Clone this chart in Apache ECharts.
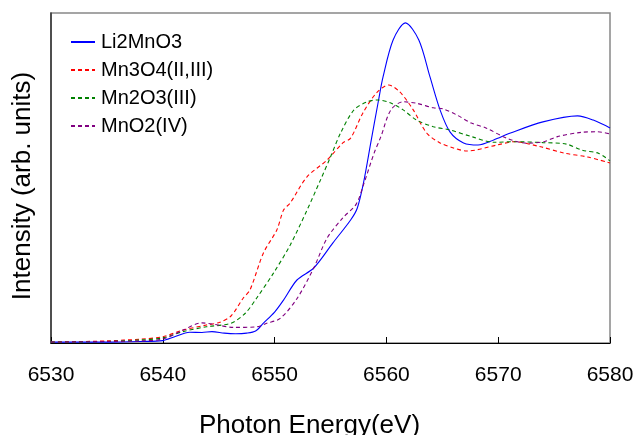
<!DOCTYPE html>
<html><head><meta charset="utf-8">
<script src="https://cdn.jsdelivr.net/npm/echarts@6/dist/echarts.min.js"></script>
<style>html,body{margin:0;padding:0;background:#fff}#c{width:637px;height:435px}</style>
</head><body><div id="c"></div>
<script>
const seriesNames = ['Li2MnO3','Mn3O4(II,III)','Mn2O3(III)','MnO2(IV)'];
const xTicks = [6530,6540,6550,6560,6570,6580];

const li2mno3E = [6530,6535,6538,6540,6541,6542.4,6543.5,6544.4,6545.5,6546.5,6547.5,6548.3,6549,6550,6550.8,6552,6553.5,6555.2,6556.8,6557.4,6558,6558.6,6559.3,6559.7,6560.6,6561.7,6562.9,6563.9,6564.8,6565.7,6566.9,6568.2,6569.6,6571.1,6574,6577.1,6578.5,6580];
const li2mno3I = [0.003,0.003,0.005,0.008,0.02,0.036,0.035,0.038,0.033,0.031,0.033,0.04,0.066,0.103,0.143,0.21,0.25,0.333,0.41,0.45,0.543,0.667,0.81,0.887,1.01,1.067,1.01,0.887,0.777,0.703,0.667,0.66,0.677,0.70,0.737,0.757,0.743,0.717];

const mn3o4E = [6530,6535,6538,6540,6541.8,6543.9,6545.1,6546.1,6547.2,6547.8,6549,6550.2,6550.8,6551.4,6552.9,6554.7,6556.1,6556.8,6557.9,6559.1,6560.2,6561.2,6562.4,6563.6,6564.8,6566,6567.2,6569.9,6571.4,6573.8,6575.9,6578,6580];
const mn3o4I = [0.003,0.007,0.013,0.021,0.043,0.06,0.069,0.09,0.15,0.177,0.30,0.377,0.443,0.467,0.554,0.61,0.667,0.683,0.767,0.833,0.86,0.837,0.777,0.70,0.667,0.65,0.64,0.66,0.671,0.654,0.633,0.62,0.60];

const mn2o3E = [6530,6535,6538,6540,6541.8,6543.9,6546.1,6547.4,6548.4,6549.9,6551.4,6552.9,6554.1,6555,6555.9,6557.1,6558.3,6559.2,6560.4,6561.5,6562.7,6564.2,6565.7,6567.7,6569.6,6571.4,6574,6576.1,6577.5,6579,6580];
const mn2o3I = [0.003,0.005,0.01,0.017,0.038,0.054,0.066,0.10,0.15,0.233,0.327,0.443,0.543,0.62,0.70,0.777,0.804,0.81,0.80,0.777,0.743,0.721,0.71,0.687,0.669,0.671,0.668,0.663,0.643,0.632,0.607];

const mno2E = [6530,6535,6538,6540,6541.8,6543.5,6544.5,6546.3,6548.4,6549.3,6550.5,6552,6553.5,6554.7,6556.1,6557.3,6558,6558.9,6559.5,6560.4,6561.5,6562.7,6564.2,6565.1,6566.3,6567.6,6568.9,6570.8,6572.6,6574.1,6575.3,6577.4,6578.9,6580];
const mno2I = [0.003,0.005,0.007,0.013,0.043,0.067,0.063,0.052,0.054,0.066,0.082,0.148,0.25,0.35,0.417,0.463,0.533,0.633,0.687,0.777,0.804,0.799,0.784,0.78,0.76,0.733,0.717,0.682,0.666,0.671,0.688,0.702,0.704,0.697];

const zip = (a,b) => a.map((v,i)=>[v,b[i]]);
const colors = ['#0000ff','#ff0000','#008000','#800080'];
const dataSets = [zip(li2mno3E,li2mno3I), zip(mn3o4E,mn3o4I), zip(mn2o3E,mn2o3I), zip(mno2E,mno2I)];
const FONT = 'Liberation Sans, Arial, sans-serif';

const chart = echarts.init(document.getElementById('c'), null, {renderer:'canvas'});
chart.setOption({
  animation:false,
  backgroundColor:'#fff',
  grid:{left:51,right:27,top:13,bottom:92,containLabel:false,outerBoundsMode:'none',show:true,borderColor:'#888',borderWidth:1.5,backgroundColor:'transparent'},
  legend:{
    orient:'vertical', left:65, top:27, itemGap:8, itemWidth:24, itemHeight:14,
    textStyle:{fontFamily:FONT,fontSize:20,color:'#000',padding:[0,0,0,1]},
    itemStyle:{opacity:0},
    data:seriesNames.map(n=>({name:n}))
  },
  xAxis:{
    type:'value', min:6530, max:6580, interval:10,
    axisLine:{show:true,lineStyle:{color:'#000',width:1.2}},
    axisTick:{show:true,inside:true,length:6,lineStyle:{color:'#000'}},
    axisLabel:{fontFamily:FONT,fontSize:21,color:'#000',margin:22,formatter:v=>String(v)},
    splitLine:{show:false},
    name:'Photon Energy(eV)', nameLocation:'middle', nameGap:70,
    nameTextStyle:{fontFamily:FONT,fontSize:26,color:'#000',padding:[0,42,0,0]}
  },
  yAxis:{
    type:'value', min:0, max:1.1,
    axisLine:{show:true,lineStyle:{color:'#333',width:1.5}},
    axisTick:{show:false}, axisLabel:{show:false}, splitLine:{show:false},
    name:'Intensity (arb. units)', nameLocation:'middle', nameGap:15, nameRotate:90,
    nameTextStyle:{fontFamily:FONT,fontSize:26,color:'#000',padding:[0,16,0,0]}
  },
  series: seriesNames.map((n,i)=>({
    name:n, type:'line', data:dataSets[i], smooth:0.3, symbol:'none', showSymbol:false,
    color:colors[i],
    lineStyle:{color:colors[i], width:1.1, type: i===0 ? 'solid' : [4,3]}
  }))
});
</script></body></html>
